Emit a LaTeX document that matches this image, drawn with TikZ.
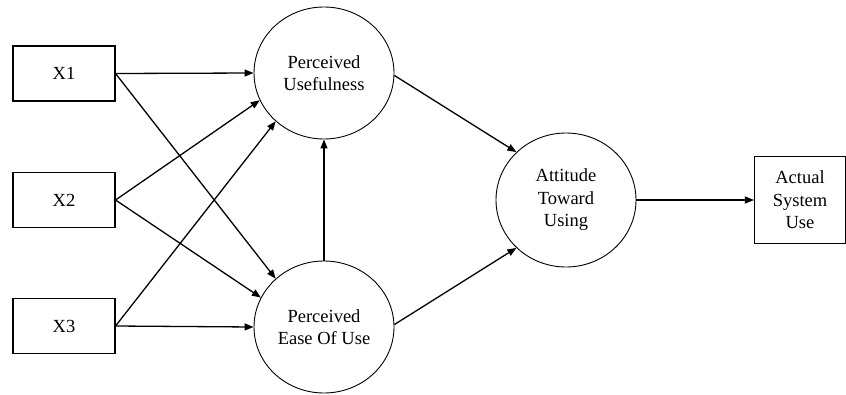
\documentclass[tikz,border=0pt]{standalone}
\usepackage{fontspec}
\setmainfont{Liberation Serif}
\usetikzlibrary{shapes.geometric,arrows.meta}
\begin{document}
\begin{tikzpicture}[x=1pt,y=-1pt,
  every node/.style={font=\fontsize{18.5}{22.5}\selectfont, align=center},
  obsbox/.style={draw, line width=1.1pt, minimum width=102pt, minimum height=55pt, inner sep=0pt},
  latent/.style={draw, ellipse, line width=0.9pt, minimum width=140pt, minimum height=132pt, inner sep=0pt},
  path/.style={line width=1.3pt, -{Triangle[length=9pt,width=7pt]}}]
\useasboundingbox (0,0) rectangle (846,394);
% observed inputs
\node[obsbox] (x1) at (64,73.5) {X1};
\node[obsbox] (x2) at (64,200) {X2};
\node[obsbox] (x3) at (64,326) {X3};
% latent constructs
\node[latent] (pu) at (324,73) {Perceived\\Usefulness};
\node[latent] (peou) at (324,327) {Perceived\\Ease Of Use};
\node[latent, minimum height=134pt] (att) at (566,200) {Attitude\\Toward\\Using};
% outcome
\node[obsbox, minimum width=91pt, minimum height=87pt] (asu) at (800,200) {Actual\\System\\Use};
% paths
\draw[path] (x1.east) -- (pu.180);
\draw[path] (x1.east) -- (peou.135);
\draw[path] (x2.east) -- (pu.-157);
\draw[path] (x2.east) -- (peou.155);
\draw[path] (x3.east) -- (pu.-135);
\draw[path] (x3.east) -- (peou.180);
\draw[path] (peou.north) -- (pu.south);
\draw[path] (pu.-2) -- (att.136);
\draw[path] (peou.2) -- (att.-136);
\draw[path] (att.east) -- (asu.west);
\end{tikzpicture}
\end{document}
